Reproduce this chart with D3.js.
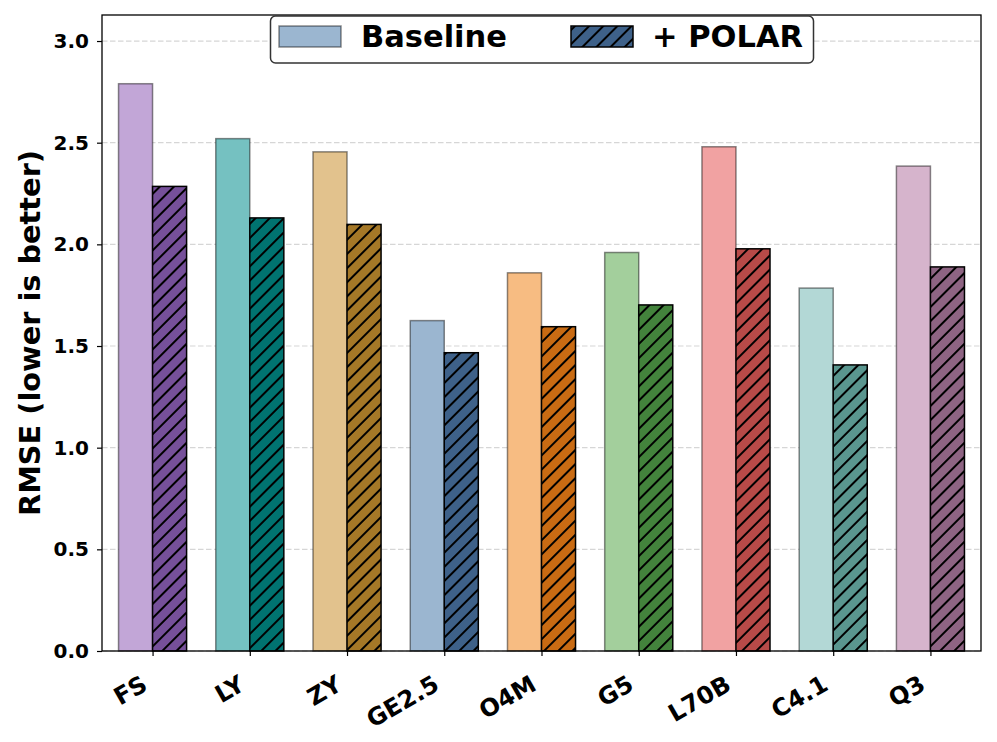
<!DOCTYPE html>
<html>
<head>
<meta charset="utf-8">
<script src="https://cdn.jsdelivr.net/npm/d3@7"></script>
<style>
  html, body { margin: 0; padding: 0; background: #fff; }
  svg { display: block; font-family: "DejaVu Sans", sans-serif; }
</style>
</head>
<body>
<svg id="chart" width="997" height="742"></svg>
<script>
// chart data
const models = ["FS", "LY", "ZY", "GE2.5", "O4M", "G5", "L70B", "C4.1", "Q3"];
const baseline = [2.79, 2.52, 2.455, 1.625, 1.86, 1.96, 2.48, 1.785, 2.385];
const polar = [2.285, 2.13, 2.098, 1.467, 1.595, 1.702, 1.978, 1.407, 1.889];
const baseColors = ["#c2a6d7", "#75c1c1", "#e2c28d", "#9bb6d0", "#f7bc82", "#a3cf9c", "#f1a2a2", "#b3d8d6", "#d6b4cc"];
const polarColors = ["#76509a", "#007370", "#a57827", "#3e6189", "#c96b13", "#43833c", "#b84a48", "#5a968f", "#8e6483"];
const yTicks = [0, 0.5, 1.0, 1.5, 2.0, 2.5, 3.0];

const svg = d3.select("#chart");
const plotL = 102, plotR = 981, plotT = 15, plotB = 651;
const barW = 0.35;
const hatchGap = 10; // perpendicular distance between hatch lines

const x = d3.scaleLinear().domain([-0.52, models.length - 1 + 0.52]).range([plotL, plotR]);
const y = d3.scaleLinear().domain([0, 3.128]).range([plotB, plotT]);

// hatch patterns, one per polar colour
const defs = svg.append("defs");
polarColors.forEach(function (c, i) {
  const p = defs.append("pattern")
    .attr("id", "hatch" + i)
    .attr("patternUnits", "userSpaceOnUse")
    .attr("width", hatchGap).attr("height", hatchGap)
    .attr("patternTransform", "rotate(45)");
  p.append("rect").attr("width", hatchGap).attr("height", hatchGap).attr("fill", c);
  p.append("line").attr("x1", hatchGap / 2).attr("x2", hatchGap / 2)
    .attr("y1", -1).attr("y2", hatchGap + 1)
    .attr("stroke", "#000").attr("stroke-width", 2);
});

// grid
svg.append("g").selectAll("line").data(yTicks).join("line")
  .attr("x1", plotL).attr("x2", plotR)
  .attr("y1", d => y(d)).attr("y2", d => y(d))
  .attr("stroke", "#d6d6d6").attr("stroke-width", 1.2)
  .attr("stroke-dasharray", "5.5,2.5");

// bars
svg.append("g").selectAll("rect").data(baseline).join("rect")
  .attr("x", (d, i) => x(i - barW))
  .attr("width", x(barW) - x(0))
  .attr("y", d => y(d))
  .attr("height", d => y(0) - y(d))
  .attr("fill", (d, i) => baseColors[i])
  .attr("stroke", "rgba(0,0,0,0.45)").attr("stroke-width", 1.5);

svg.append("g").selectAll("rect").data(polar).join("rect")
  .attr("x", (d, i) => x(i))
  .attr("width", x(barW) - x(0))
  .attr("y", d => y(d))
  .attr("height", d => y(0) - y(d))
  .attr("fill", (d, i) => "url(#hatch" + i + ")")
  .attr("stroke", "#000").attr("stroke-width", 1.5);

// axes
const yAxis = svg.append("g").attr("transform", "translate(" + plotL + ",0)")
  .call(d3.axisLeft(y).tickValues(yTicks).tickFormat(d3.format(".1f")).tickSize(5).tickPadding(8));
yAxis.select(".domain").remove();
yAxis.selectAll("line").attr("stroke", "#000").attr("stroke-width", 1.2);
yAxis.selectAll("text").attr("font-size", "20px").attr("font-weight", "bold")
  .attr("font-family", "DejaVu Sans").attr("fill", "#000");

const xAxis = svg.append("g").attr("transform", "translate(0," + plotB + ")")
  .call(d3.axisBottom(x).tickValues(d3.range(models.length)).tickFormat(i => models[i]).tickSize(5));
xAxis.select(".domain").remove();
xAxis.selectAll("line").attr("stroke", "#000").attr("stroke-width", 1.2);
xAxis.selectAll("text")
  .attr("font-size", "24px").attr("font-weight", "bold")
  .attr("font-family", "DejaVu Sans").attr("fill", "#000")
  .attr("text-anchor", "end")
  .attr("dy", null)
  .attr("y", 0)
  .attr("transform", "translate(-4,38) rotate(-30)");

// frame
svg.append("rect").attr("x", plotL).attr("y", plotT)
  .attr("width", plotR - plotL).attr("height", plotB - plotT)
  .attr("fill", "none").attr("stroke", "#000").attr("stroke-width", 1.3);

// y label
svg.append("text")
  .attr("transform", "translate(40," + ((plotT + plotB) / 2) + ") rotate(-90)")
  .attr("text-anchor", "middle")
  .attr("font-size", "28.8px").attr("font-weight", "bold")
  .text("RMSE (lower is better)");

// legend
const lg = svg.append("g");
lg.append("rect").attr("x", 270.5).attr("y", 16).attr("width", 543).attr("height", 47)
  .attr("rx", 5).attr("fill", "#fff").attr("stroke", "#333").attr("stroke-width", 1.5);
lg.append("rect").attr("x", 279).attr("y", 26).attr("width", 62).attr("height", 21)
  .attr("fill", baseColors[3]).attr("stroke", "rgba(0,0,0,0.45)").attr("stroke-width", 1.5);
lg.append("text").attr("x", 361).attr("y", 47).attr("font-size", "30.5px").attr("font-weight", "bold")
  .text("Baseline");
lg.append("rect").attr("x", 571).attr("y", 26).attr("width", 62).attr("height", 21)
  .attr("fill", "url(#hatch3)").attr("stroke", "#000").attr("stroke-width", 1.5);
lg.append("text").attr("x", 652).attr("y", 47).attr("font-size", "30.5px").attr("font-weight", "bold")
  .text("+ POLAR");
</script>
</body>
</html>
